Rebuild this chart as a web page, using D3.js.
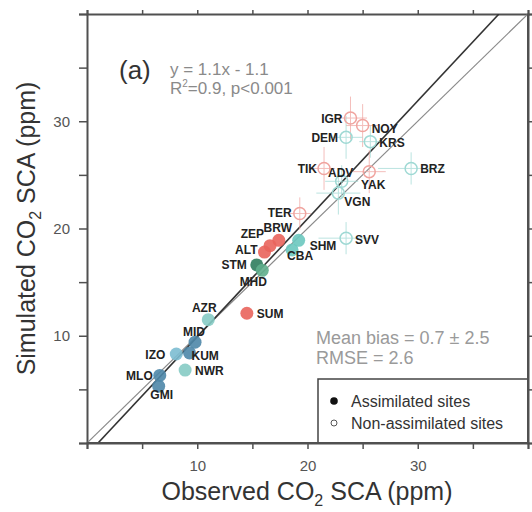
<!DOCTYPE html>
<html><head><meta charset="utf-8">
<script src="https://cdn.jsdelivr.net/npm/d3@7"></script>
<style>body{margin:0;background:#fff}svg{display:block}text{font-family:"Liberation Sans",Arial,sans-serif}</style>
</head><body><svg id="c" width="532" height="512"></svg>
<script>
// ---- data ----
const sites      = ["IGR","NOY","DEM","KRS","TIK","ADV","YAK","BRZ","VGN","SVV","TER",
                    "BRW","ZEP","ALT","SHM","CBA","STM","MHD","SUM","AZR","MID","IZO","KUM","NWR","MLO","GMI"];
const observed   = [23.9,25.0,23.5,25.7,21.5,23.1,25.6,29.4,22.8,23.5,19.3,
                    17.4,16.6,16.1,19.2,18.6,15.4,15.9,14.5,11.0,9.8,8.1,9.3,8.9,6.6,6.5];
const simulated  = [30.3,29.6,28.5,28.1,25.6,24.4,25.3,25.6,23.3,19.1,21.4,
                    18.9,18.4,17.8,18.9,18.0,16.6,16.1,12.1,11.5,9.4,8.3,8.4,6.8,6.3,5.3];
const obsErr     = [1.5,1.5,1.5,1.0,1.0,1.5,1.5,3.0,2.0,2.5,1.0,
                    0,0,0,0,0,0,0,0,0,0,0,0,0,0,0];
const simErr     = [2.0,2.0,2.0,1.5,2.0,1.5,2.0,1.5,2.0,1.5,1.5,
                    0,0,0,0,0,0,0,0,0,0,0,0,0,0,0];
const assimilated= [false,false,false,false,false,false,false,false,false,false,false,
                    true,true,true,true,true,true,true,true,true,true,true,true,true,true,true];
const group      = ["arctic","arctic","boreal","boreal","arctic","boreal","arctic","boreal","boreal","boreal","arctic",
                    "arctic","arctic","arctic","boreal","boreal","midlat","midlat2","arctic","subtrop","tropic","tropic2","tropic","subtrop","tropic","tropic"];
const xTicks = [10,20,30];
const yTicks = [10,20,30];
const minorTicks = [0,5,10,15,20,25,30,35,40];
const fitSlope = 1.1, fitIntercept = -1.1;

// ---- styling / layout (not data) ----
const fillCol = {arctic:"#e9645c",boreal:"#6cc8bf",midlat:"#2f7d5e",midlat2:"#5fae8c",subtrop:"#86cbc4",tropic:"#4e87a8",tropic2:"#7cbcd2"};
const openCol = {arctic:"#f0a49f",boreal:"#9fd9d4"};
const lab = { // anchor, dx, dy
 IGR:["end",-8,5], NOY:["start",9,7], DEM:["end",-8,5], KRS:["start",9,5], TIK:["end",-7,5],
 ADV:["middle",-1,-4], YAK:["middle",4,17], BRZ:["start",9,5], VGN:["start",6,13], SVV:["start",9,6],
 TER:["end",-8,4], BRW:["middle",-1,-8], ZEP:["end",-6,-8], ALT:["end",-7,2], SHM:["start",11,10],
 CBA:["middle",8,10], STM:["end",-10,4], MHD:["middle",-9,16], SUM:["start",10,5], AZR:["middle",-4,-8],
 MID:["middle",-1,-6], IZO:["end",-11,5], KUM:["start",2,7], NWR:["start",10,5], MLO:["end",-7,5], GMI:["middle",3,13]
};

const svg = d3.select("#c");
const L=87, R=528, T=14, B=443;
const x = d3.scaleLinear().domain([0,40]).range([L,R]);
const y = d3.scaleLinear().domain([0,40]).range([B,T]);

svg.append("defs").append("clipPath").attr("id","pc")
  .append("rect").attr("x",L).attr("y",T).attr("width",R-L).attr("height",B-T);

const axCol="#505050";
const FF='"Liberation Sans",Arial,sans-serif';
// axes
const gx = svg.append("g").attr("transform",`translate(0,${B})`)
  .call(d3.axisBottom(x).tickValues(minorTicks).tickSize(6).tickPadding(11).tickFormat(d=>xTicks.includes(d)?d:""));
const gy = svg.append("g").attr("transform",`translate(${L},0)`)
  .call(d3.axisLeft(y).tickValues(minorTicks).tickSize(8).tickPadding(9).tickFormat(d=>yTicks.includes(d)?d:""));
const gt = svg.append("g").attr("transform",`translate(0,${T})`)
  .call(d3.axisTop(x).tickValues(minorTicks).tickSize(4).tickFormat(""));
const gr = svg.append("g").attr("transform",`translate(${R},0)`)
  .call(d3.axisRight(y).tickValues(minorTicks).tickSize(4).tickFormat(""));
[gx,gy,gt,gr].forEach(g=>{
  g.select(".domain").attr("stroke",axCol).attr("stroke-width",2);
  g.selectAll(".tick line").attr("stroke",axCol).attr("stroke-width",1.5);
  g.selectAll(".tick text").attr("fill","#555").attr("font-size",15).attr("font-family",FF);
});

const plot = svg.append("g").attr("clip-path","url(#pc)");
// 1:1 line
plot.append("line").attr("x1",x(0)).attr("y1",y(0)).attr("x2",x(40)).attr("y2",y(40))
  .attr("stroke","#8a8a8a").attr("stroke-width",1.2);
// regression line
const x0 = -fitIntercept/fitSlope, x1 = (40-fitIntercept)/fitSlope;
plot.append("line").attr("x1",x(x0)).attr("y1",y(0)).attr("x2",x(x1)).attr("y2",y(40))
  .attr("stroke","#333").attr("stroke-width",1.6);

const idx = d3.range(sites.length);
// error bars
idx.filter(i=>!assimilated[i]).forEach(i=>{
  const c = openCol[group[i]];
  const g = plot.append("g").attr("stroke",c).attr("stroke-width",1).attr("opacity",0.7);
  g.append("line").attr("x1",x(observed[i]-obsErr[i])).attr("x2",x(observed[i]+obsErr[i]))
    .attr("y1",y(simulated[i])).attr("y2",y(simulated[i]));
  g.append("line").attr("y1",y(simulated[i]-simErr[i])).attr("y2",y(simulated[i]+simErr[i]))
    .attr("x1",x(observed[i])).attr("x2",x(observed[i]));
});
// open points
plot.selectAll("circle.open").data(idx.filter(i=>!assimilated[i])).join("circle")
  .attr("class","open").attr("cx",i=>x(observed[i])).attr("cy",i=>y(simulated[i])).attr("r",6)
  .attr("fill","none").attr("stroke",i=>openCol[group[i]]).attr("stroke-width",1.5);
// filled points
plot.selectAll("circle.fill").data(idx.filter(i=>assimilated[i])).join("circle")
  .attr("class","fill").attr("cx",i=>x(observed[i])).attr("cy",i=>y(simulated[i])).attr("r",6.5)
  .attr("fill",i=>fillCol[group[i]]).attr("opacity",0.9);
// labels
svg.append("g").selectAll("text").data(idx).join("text")
  .attr("x",i=>x(observed[i])+lab[sites[i]][1]).attr("y",i=>y(simulated[i])+lab[sites[i]][2])
  .attr("text-anchor",i=>lab[sites[i]][0]).attr("font-size",12).attr("font-weight","bold")
  .attr("fill","#222").text(i=>sites[i]);

// annotations
svg.append("text").attr("x",119).attr("y",79).attr("font-size",26).attr("fill","#333").text("(a)");
svg.append("text").attr("x",170).attr("y",75).attr("font-size",17).attr("fill","#8a8a8a").text("y = 1.1x - 1.1");
const r2 = svg.append("text").attr("x",170).attr("y",94).attr("font-size",17).attr("fill","#8a8a8a");
r2.append("tspan").text("R");
r2.append("tspan").attr("font-size",10).attr("dy",-7).text("2");
r2.append("tspan").attr("dy",7).text("=0.9, p<0.001");
svg.append("text").attr("x",316).attr("y",344).attr("font-size",18).attr("fill","#9a9a9a").text("Mean bias = 0.7 \u00b1 2.5");
svg.append("text").attr("x",316).attr("y",364).attr("font-size",18).attr("fill","#9a9a9a").text("RMSE = 2.6");

// legend
svg.append("rect").attr("x",318).attr("y",379).attr("width",R-318).attr("height",B-379)
  .attr("fill","#fff").attr("stroke","#444").attr("stroke-width",1.5);
svg.append("circle").attr("cx",334).attr("cy",401).attr("r",3.8).attr("fill","#111");
svg.append("circle").attr("cx",334).attr("cy",423).attr("r",3).attr("fill","none").attr("stroke","#555").attr("stroke-width",1);
svg.append("text").attr("x",351).attr("y",407).attr("font-size",16).attr("fill","#333").text("Assimilated sites");
svg.append("text").attr("x",351).attr("y",429).attr("font-size",16).attr("fill","#333").text("Non-assimilated sites");
// redraw frame edges over legend
svg.append("line").attr("x1",L).attr("x2",R).attr("y1",B).attr("y2",B).attr("stroke",axCol).attr("stroke-width",2);
svg.append("line").attr("x1",R).attr("x2",R).attr("y1",T).attr("y2",B).attr("stroke",axCol).attr("stroke-width",2);

// axis titles
const xt = svg.append("text").attr("x",307).attr("y",500).attr("text-anchor","middle").attr("font-size",25).attr("fill","#333");
xt.append("tspan").text("Observed CO");
xt.append("tspan").attr("font-size",16).attr("dy",6).text("2");
xt.append("tspan").attr("dy",-6).text(" SCA (ppm)");
const yt = svg.append("text").attr("transform",`translate(35,${(T+B)/2}) rotate(-90)`).attr("text-anchor","middle").attr("font-size",25).attr("fill","#333");
yt.append("tspan").text("Simulated CO");
yt.append("tspan").attr("font-size",16).attr("dy",6).text("2");
yt.append("tspan").attr("dy",-6).text(" SCA (ppm)");
</script></body></html>
